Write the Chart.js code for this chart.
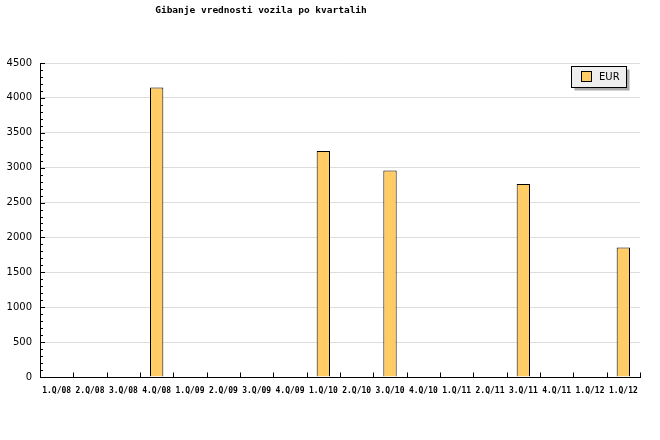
<!DOCTYPE html>
<html>
<head>
<meta charset="utf-8">
<title>Gibanje vrednosti vozila po kvartalih</title>
<script src="https://cdn.jsdelivr.net/npm/chart.js@4/dist/chart.umd.min.js"></script>
<style>
  html, body { margin: 0; padding: 0; background: #fff; }
  #wrap { width: 660px; height: 440px; }
</style>
</head>
<body>
<div id="wrap"><canvas id="chart" width="660" height="440"></canvas></div>
<script>
// chart data
var chartTitle = 'Gibanje vrednosti vozila po kvartalih';
var quarters = [
  '1.Q/08', '2.Q/08', '3.Q/08', '4.Q/08',
  '1.Q/09', '2.Q/09', '3.Q/09', '4.Q/09',
  '1.Q/10', '2.Q/10', '3.Q/10', '4.Q/10',
  '1.Q/11', '2.Q/11', '3.Q/11', '4.Q/11',
  '1.Q/12', '1.Q/12'
];
var seriesLabel = 'EUR';
var eurValues = [
  null, null, null, 4150,
  null, null, null, null,
  3240, null, 2960, null,
  null, null, 2765, null,
  null, 1855
];
var yMax = 4500;
var yStep = 500;
var yMinorStep = 100;

var barColor = '#ffcc66';
var monoFont = '"DejaVu Sans Mono", "Liberation Mono", monospace';
var sansFont = '"DejaVu Sans", Verdana, sans-serif';

/**
 * Title, legend box and tick marks drawn the old jpgraph way.
 */
var decorPlugin = {
  id: 'decor',
  afterDraw: function (chart) {
    var ctx = chart.ctx;
    var area = chart.chartArea;
    var y = chart.scales.y;
    var v, py, i, px;

    ctx.save();
    ctx.strokeStyle = '#000';
    ctx.lineWidth = 1;

    // y ticks, pointing into the plot
    ctx.beginPath();
    for (v = 0; v <= yMax; v += yMinorStep) {
      py = Math.round(y.getPixelForValue(v)) + 0.5;
      var len = (v % yStep === 0) ? 5 : 3;
      ctx.moveTo(area.left, py);
      ctx.lineTo(area.left + len, py);
    }
    // x ticks at category boundaries
    var bottom = Math.round(area.bottom) + 0.5;
    for (i = 1; i <= quarters.length; i++) {
      px = Math.round(area.left + (area.right - area.left) * i / quarters.length) + 0.5;
      ctx.moveTo(px, bottom);
      ctx.lineTo(px, bottom - 5);
    }
    ctx.stroke();

    // title
    ctx.fillStyle = '#000';
    ctx.font = 'bold 9.5px ' + monoFont;
    ctx.textAlign = 'center';
    ctx.textBaseline = 'middle';
    ctx.fillText(chartTitle, 261, 11);

    // legend with drop shadow
    var lx = 571.5, ly = 66.5, lw = 55, lh = 21;
    ctx.fillStyle = '#aaaaaa';
    ctx.fillRect(lx + 3, ly + 3, lw, lh);
    ctx.fillStyle = '#eeeeee';
    ctx.fillRect(lx, ly, lw, lh);
    ctx.strokeRect(lx, ly, lw, lh);
    ctx.fillStyle = barColor;
    ctx.fillRect(581.5, 71.5, 10, 10);
    ctx.strokeRect(581.5, 71.5, 10, 10);
    ctx.fillStyle = '#000';
    ctx.font = '10px ' + sansFont;
    ctx.textAlign = 'left';
    ctx.fillText(seriesLabel, 599, 77.5);
    ctx.restore();
  }
};

var ctx = document.getElementById('chart').getContext('2d');
new Chart(ctx, {
  type: 'bar',
  data: {
    labels: quarters,
    datasets: [{
      label: seriesLabel,
      data: eurValues,
      backgroundColor: barColor,
      borderColor: '#000',
      borderWidth: 1,
      borderSkipped: 'bottom',
      categoryPercentage: 1,
      barPercentage: 0.4
    }]
  },
  options: {
    responsive: false,
    animation: false,
    layout: { padding: { top: 63, right: 20, left: 0, bottom: 0 } },
    plugins: {
      legend: { display: false },
      title: { display: false },
      tooltip: { enabled: false }
    },
    scales: {
      x: {
        afterFit: function (scale) { scale.height = 63; },
        grid: { display: false, drawTicks: false },
        border: { display: true, color: '#000', width: 1 },
        ticks: {
          autoSkip: false,
          maxRotation: 0,
          padding: 9,
          color: '#000',
          font: { family: monoFont, size: 8, weight: 'bold' }
        }
      },
      y: {
        min: 0,
        max: yMax,
        afterFit: function (scale) { scale.width = 40; },
        grid: { color: '#dddddd', lineWidth: 1, drawTicks: false },
        border: { display: true, color: '#000', width: 1 },
        ticks: {
          stepSize: yStep,
          padding: 8,
          color: '#000',
          font: { family: sansFont, size: 10 },
          callback: function (value) { return String(value); }
        }
      }
    }
  },
  plugins: [decorPlugin]
});
</script>
</body>
</html>
